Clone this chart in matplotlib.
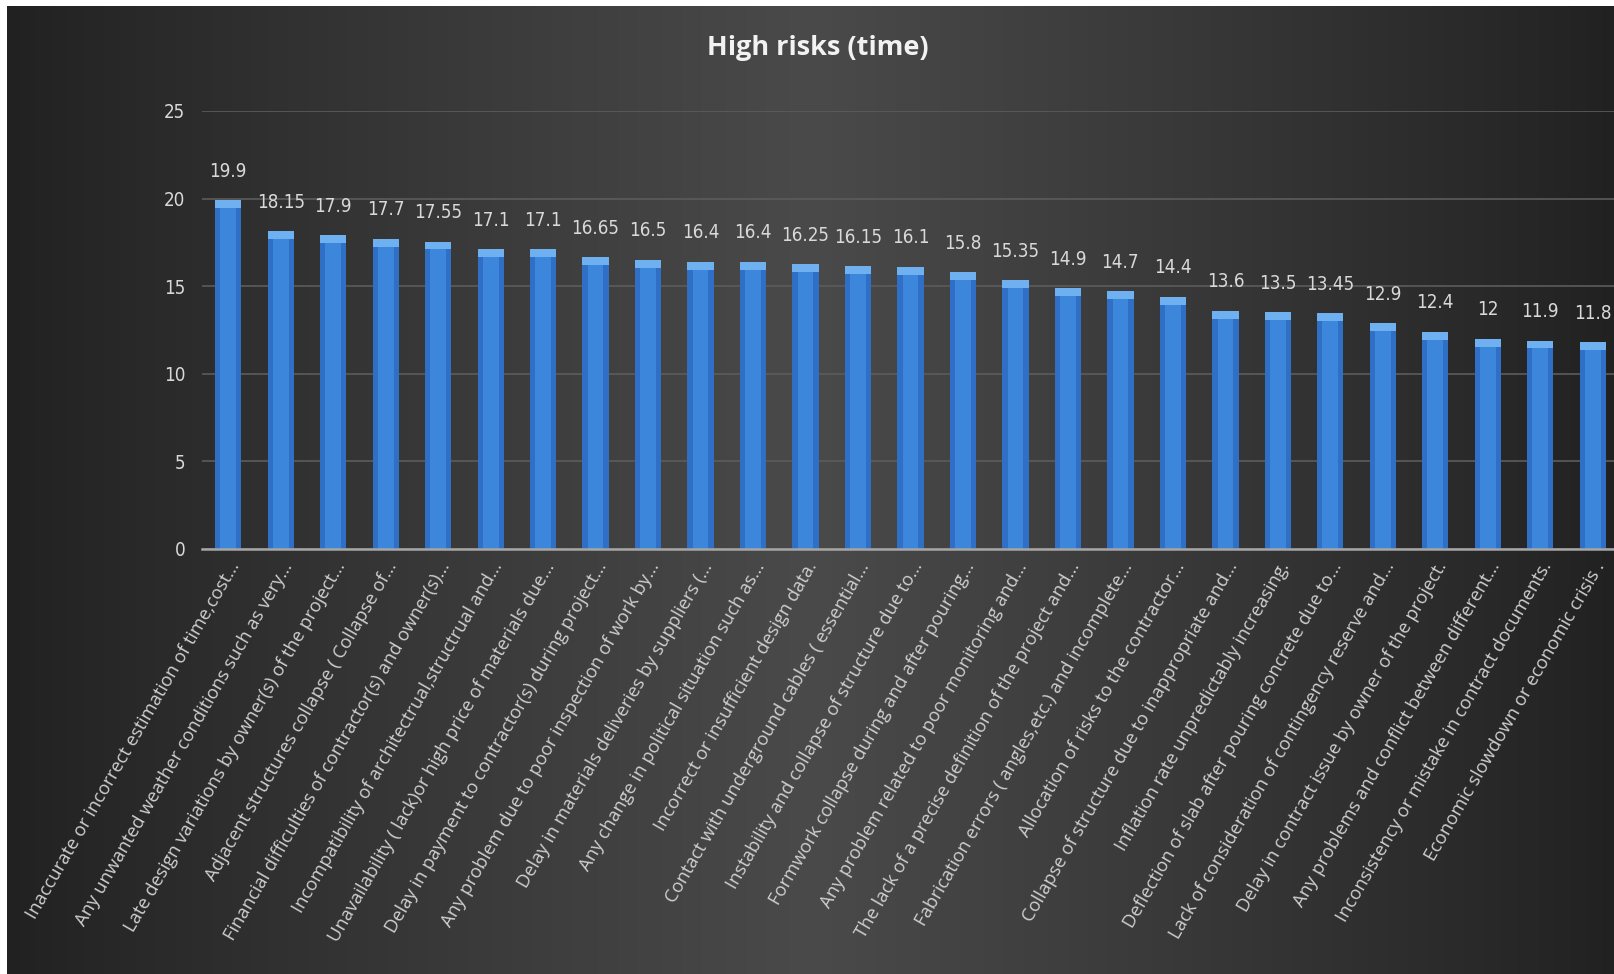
import matplotlib
matplotlib.use("Agg")
import matplotlib.pyplot as plt
import numpy as np
from matplotlib import font_manager

# --- Data ---
risks = [
    "Inaccurate or incorrect estimation of time,cost...",
    "Any unwanted weather conditions such as very...",
    "Late design variations by owner(s) of the project...",
    "Adjacent structures collapse ( Collapse of...",
    "Financial difficulties of contractor(s) and owner(s)...",
    "Incompatibility of architectrual,structrual and...",
    "Unavailability ( lack)or high price of materials due...",
    "Delay in payment to contractor(s) during project...",
    "Any problem due to poor inspection of work by...",
    "Delay in materials deliveries by suppliers (...",
    "Any change in political situation such as...",
    "Incorrect or insufficient design data.",
    "Contact with underground cables ( essential...",
    "Instability and collapse of structure due to...",
    "Formwork collapse during and after pouring...",
    "Any problem related to poor monitoring and...",
    "The lack of a precise definition of the project and...",
    "Fabrication errors ( angles,etc.) and incomplete...",
    "Allocation of risks to the contractor...",
    "Collapse of structure due to inappropriate and...",
    "Inflation rate unpredictably increasing.",
    "Deflection of slab after pouring concrete due to...",
    "Lack of consideration of contingency reserve and...",
    "Delay in contract issue by owner of the project.",
    "Any problems and conflict between different...",
    "Inconsistency or mistake in contract documents.",
    "Economic slowdown or economic crisis .",
]
scores = [19.9, 18.15, 17.9, 17.7, 17.55, 17.1, 17.1, 16.65, 16.5, 16.4,
          16.4, 16.25, 16.15, 16.1, 15.8, 15.35, 14.9, 14.7, 14.4, 13.6,
          13.5, 13.45, 12.9, 12.4, 12, 11.9, 11.8]
score_labels = ["19.9", "18.15", "17.9", "17.7", "17.55", "17.1", "17.1", "16.65",
                "16.5", "16.4", "16.4", "16.25", "16.15", "16.1", "15.8", "15.35",
                "14.9", "14.7", "14.4", "13.6", "13.5", "13.45", "12.9", "12.4",
                "12", "11.9", "11.8"]

# --- Fonts ---
installed = {f.name for f in font_manager.fontManager.ttflist}
label_font = "Open Sans" if "Open Sans" in installed else "DejaVu Sans"
num_font = dict(family="DejaVu Sans", stretch="condensed")

W, H = 1614, 974
fig = plt.figure(figsize=(W / 100, H / 100), dpi=100, facecolor="white")

# --- dark gradient background (white strip left/top like the screenshot) ---
bg = fig.add_axes([7 / W, 0, 1 - 7 / W, 1 - 6 / H])
xs = np.linspace(0, 1, 400)
t = 1 - np.abs(xs - 0.5) / 0.5
shade = 0.13 + 0.16 * t ** 0.9
img = np.tile(shade, (50, 1))
bg.imshow(np.dstack([img, img, img]), aspect="auto", extent=[0, 1, 0, 1])
bg.set_axis_off()

# --- main axes ---
left_px, right_px = 202, 1619
bot_px, top_px = 549, 111
ax = fig.add_axes([left_px / W, 1 - bot_px / H, (right_px - left_px) / W, (bot_px - top_px) / H])
ax.patch.set_alpha(0)

x = np.arange(len(scores))
vals = np.array(scores)
ax.bar(x, vals, width=0.5, color="#2f6fc6", zorder=3)
ax.bar(x, vals, width=0.3, color="#3c86dc", zorder=3)
cap = 0.45
ax.bar(x, np.full(len(vals), cap), bottom=vals - cap, width=0.5, color="#6fb0f0", zorder=4)

for xi, v, s in zip(x, vals, score_labels):
    ax.annotate(s, (xi, v), xytext=(0, 14), textcoords="offset points",
                ha="center", va="bottom", color="#d9d9d9", fontsize=13.5,
                **num_font)

ax.set_xlim(-0.5, len(scores) - 0.5)
ax.set_ylim(0, 25)
ax.set_yticks([0, 5, 10, 15, 20, 25])
ax.yaxis.grid(True, color="#5c5c5c", linewidth=1.2, zorder=0)
ax.set_axisbelow(True)
for side in ["left", "right", "top"]:
    ax.spines[side].set_visible(False)
ax.spines["bottom"].set_color("#a6a6a6")
ax.spines["bottom"].set_linewidth(1.8)
ax.spines["bottom"].set_zorder(5)

ax.tick_params(axis="y", length=0, pad=12, labelcolor="#d9d9d9", labelsize=13.5)
for lab in ax.get_yticklabels():
    lab.set_family("DejaVu Sans")
    lab.set_stretch("condensed")
ax.set_xticks(x)
ax.set_xticklabels(risks, rotation=60, ha="right", rotation_mode="anchor",
                   color="#cfcfcf", fontsize=13.2, family=label_font)
ax.tick_params(axis="x", length=0, pad=7)

fig.text(818 / W, 1 - 48 / H, "High risks (time)", ha="center", va="center",
         color="#f2f2f2", fontsize=19.5, fontweight="bold", family=label_font)

plt.savefig("out.png", dpi=100, facecolor=fig.get_facecolor())
